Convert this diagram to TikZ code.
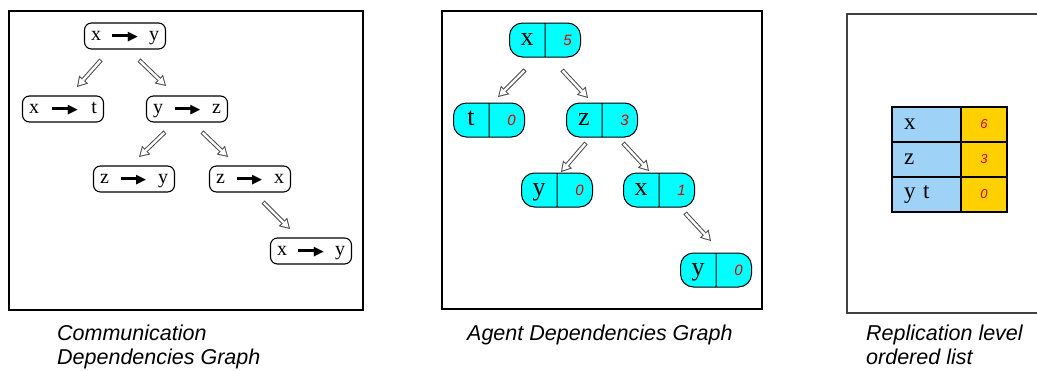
\documentclass[tikz,border=0pt]{standalone}
\usepackage{fontspec}
\setmainfont{Liberation Serif}
\newfontfamily\capfont{Liberation Sans}
\newfontfamily\djv{DejaVu Sans}
\usetikzlibrary{arrows.meta,shapes.multipart}
\definecolor{agcyan}{HTML}{00FFFF}
\definecolor{tblue}{HTML}{9ED2F7}
\definecolor{tgold}{HTML}{FFD000}
\definecolor{dred}{HTML}{E00000}
\newcommand\fatarr{\raisebox{3.8pt}{\rule{18pt}{3pt}}\kern-2.5pt\raisebox{-0.4pt}{\djv\fontsize{13}{13}\selectfont ▶}}
\newcommand\agt[2]{\makebox[35pt]{\rule[-12pt]{0pt}{34pt}\fontsize{26}{26}\selectfont #1}\nodepart{two}\makebox[35pt]{\rule[-12pt]{0pt}{34pt}\hspace{9pt}\capfont\itshape\fontsize{15}{15}\selectfont\color{dred}#2}}
\tikzset{
  panel/.style={draw=black, line width=1.5pt},
  cnode/.style={draw=black, line width=1.1pt, rounded corners=7pt, minimum width=81pt, minimum height=26pt, inner sep=0pt, text height=9pt, text depth=0pt, font=\fontsize{20}{20}\selectfont},
  anode/.style={rectangle split, rectangle split horizontal, rectangle split parts=2, draw=black, line width=1pt, fill=agcyan, rounded corners=13pt, inner xsep=0pt, inner ysep=0pt},
  harrow/.style={draw=black!70, line width=4.4pt, -{Triangle[length=10pt,width=12pt,line width=0pt]},
    postaction={draw=white, line width=2.4pt, -{Triangle[length=7pt,width=8.4pt,line width=0pt]}, shorten >=1.95pt, shorten <=1pt}},
  lcell/.style={draw=black, line width=1.5pt, fill=tblue, minimum width=69pt, minimum height=35pt, inner xsep=12pt, text width=45pt, align=left, font=\fontsize{23}{23}\selectfont},
  rcell/.style={draw=black, line width=1.5pt, fill=tgold, minimum width=46pt, minimum height=35pt, font=\capfont\itshape\fontsize{13}{13}\selectfont\color{dred}},
  caption/.style={inner sep=0pt, align=left, font=\capfont\itshape\fontsize{21.5}{24}\selectfont}
}
\begin{document}
\begin{tikzpicture}[x=1pt,y=-1pt]
\useasboundingbox (0,0) rectangle (1037,370);
\fill[white] (0,0) rectangle (1037,370);
% panels
\draw[panel] (9,11) rectangle (363,310);
\draw[panel] (442,11) rectangle (762,309);
\draw[panel, draw=black!75] (847,14) rectangle (1050,313);
% communication dependencies graph
\node[cnode] (c1) at (125,36) {\makebox[68pt]{x\hfill\fatarr\hfill y}};
\node[cnode] (c2) at (63,109) {\makebox[68pt]{x\hfill\fatarr\hfill t}};
\node[cnode] (c3) at (187,109) {\makebox[68pt]{y\hfill\fatarr\hfill z}};
\node[cnode] (c4) at (134,179) {\makebox[68pt]{z\hfill\fatarr\hfill y}};
\node[cnode] (c5) at (250,179) {\makebox[68pt]{z\hfill\fatarr\hfill x}};
\node[cnode] (c6) at (311,251) {\makebox[68pt]{x\hfill\fatarr\hfill y}};
\coordinate (p1s) at (101,60); \coordinate (p1e) at (77,87);
\coordinate (p2s) at (139,60); \coordinate (p2e) at (166,86);
\coordinate (p3s) at (165,132); \coordinate (p3e) at (139,157);
\coordinate (p4s) at (202,132); \coordinate (p4e) at (228,157);
\coordinate (p5s) at (263,202); \coordinate (p5e) at (290,229);
\draw[harrow] (p1s) -- (p1e);
\draw[harrow] (p2s) -- (p2e);
\draw[harrow] (p3s) -- (p3e);
\draw[harrow] (p4s) -- (p4e);
\draw[harrow] (p5s) -- (p5e);
% agent dependencies graph
\node[anode] (a1) at (545,40) {\agt{x}{5}};
\node[anode] (a2) at (489,120) {\agt{t}{0}};
\node[anode] (a3) at (602,120) {\agt{z}{3}};
\node[anode] (a4) at (557,190) {\agt{y}{0}};
\node[anode] (a5) at (659,190) {\agt{x}{1}};
\node[anode] (a6) at (716,270) {\agt{y}{0}};
\coordinate (q1s) at (525,70); \coordinate (q1e) at (498,97);
\coordinate (q2s) at (562,70); \coordinate (q2e) at (588,98);
\coordinate (q3s) at (586,143); \coordinate (q3e) at (561,172);
\coordinate (q4s) at (623,143); \coordinate (q4e) at (649,171);
\coordinate (q5s) at (685,213); \coordinate (q5e) at (711,241);
\draw[harrow] (q1s) -- (q1e);
\draw[harrow] (q2s) -- (q2e);
\draw[harrow] (q3s) -- (q3e);
\draw[harrow] (q4s) -- (q4e);
\draw[harrow] (q5s) -- (q5e);
% replication level ordered list
\node[lcell] (l1) at (926.5,124.5) {x};
\node[rcell] (r1) at (984,124.5) {6};
\node[lcell] (l2) at (926.5,159.5) {z};
\node[rcell] (r2) at (984,159.5) {3};
\node[lcell] (l3) at (926.5,194.5) {y t};
\node[rcell] (r3) at (984,194.5) {0};
% captions (base anchor of a two-line node is the last line)
\node[caption, anchor=base west] (cap1) at (57,364) {Communication\\Dependencies Graph};
\node[caption, anchor=base west] (cap2) at (467,340) {Agent Dependencies Graph};
\node[caption, anchor=base west] (cap3) at (866,364) {Replication level\\ordered list};
\end{tikzpicture}
\end{document}
